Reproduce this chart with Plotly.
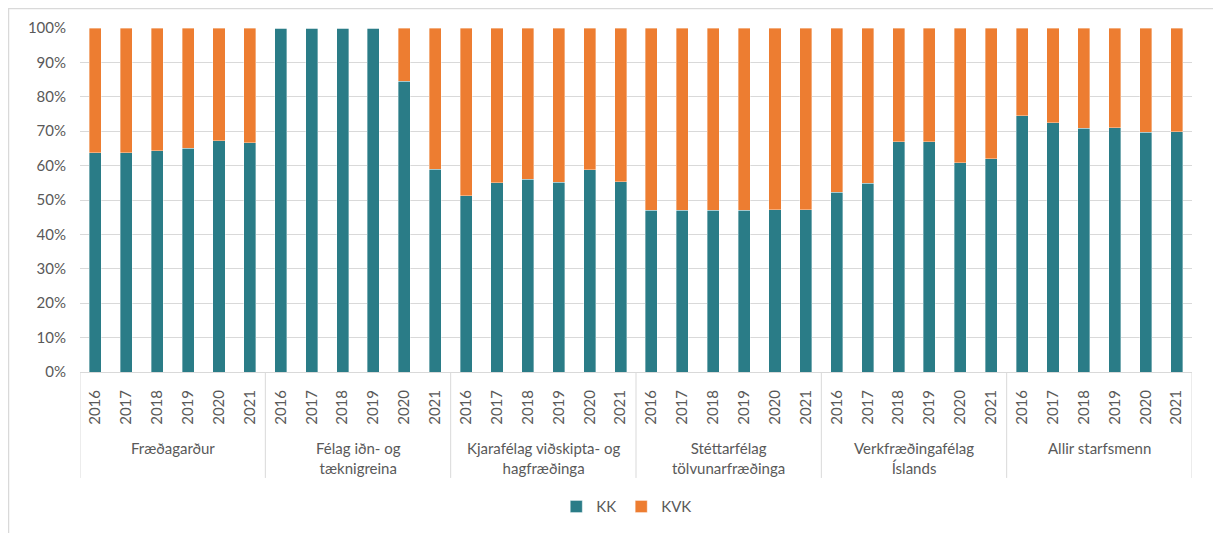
import plotly.graph_objects as go

groups = ["Fræðagarður", "Félag iðn- og<br>tæknigreina", "Kjarafélag viðskipta- og<br>hagfræðinga",
          "Stéttarfélag<br>tölvunarfræðinga", "Verkfræðingafélag<br>Íslands", "Allir starfsmenn"]
years = ["2016", "2017", "2018", "2019", "2020", "2021"]

kk_fraedagardur = [63.7, 63.7, 64.3, 65.1, 67.2, 66.7]
kk_felag_idn = [100, 100, 100, 100, 84.5, 58.9]
kk_kjarafelag = [51.3, 55.0, 56.1, 55.2, 58.8, 55.3]
kk_stettarfelag = [47.0, 47.0, 47.0, 47.0, 47.2, 47.2]
kk_verkfraedinga = [52.2, 54.8, 67.0, 67.0, 60.8, 62.0]
kk_allir = [74.5, 72.5, 70.9, 71.0, 69.7, 69.9]

y_ticks = list(range(0, 101, 10))
y_tick_labels = [f"{v}%" for v in y_ticks]

kk_all = kk_fraedagardur + kk_felag_idn + kk_kjarafelag + kk_stettarfelag + kk_verkfraedinga + kk_allir
kvk_all = [round(100 - v, 1) for v in kk_all]

n_years = len(years)
xpos = list(range(len(groups) * n_years))
year_labels = years * len(groups)

TEAL = "#2A7C87"
ORANGE = "#ED7D31"
TXT = "#595959"
GRID = "#D9D9D9"
FONT = "Lato"

fig = go.Figure()
fig.add_trace(go.Bar(x=xpos, y=kk_all, name="KK",
                     marker=dict(color=TEAL, line=dict(color="rgba(255,255,255,0.6)", width=0.6))))
fig.add_trace(go.Bar(x=xpos, y=kvk_all, name="KVK",
                     marker=dict(color=ORANGE, line=dict(color="rgba(255,255,255,0.6)", width=0.6))))

shapes = []
for g in range(len(groups) + 1):
    xb = g * n_years - 0.5
    shapes.append(dict(type="line", xref="x", yref="paper", x0=xb, x1=xb, y0=0, y1=-0.308,
                       line=dict(color=GRID, width=1)))
# outer chart border
shapes.append(dict(type="rect", xref="paper", yref="paper", x0=-0.0643, x1=1.0198, y0=-0.52, y1=1.0567,
                   line=dict(color=GRID, width=1.5), layer="below"))

annotations = []
for g, name in enumerate(groups):
    annotations.append(dict(x=g * n_years + (n_years - 1) / 2, y=-0.19, xref="x", yref="paper",
                            text=name, showarrow=False, yanchor="top", xanchor="center",
                            font=dict(family=FONT, size=15, color=TXT)))

fig.update_layout(
    width=1213, height=525,
    margin=dict(l=72, r=29, t=20, b=161, autoexpand=False),
    barmode="stack", bargap=0.61,
    plot_bgcolor="white", paper_bgcolor="white",
    font=dict(family=FONT, size=15, color=TXT),
    shapes=shapes, annotations=annotations,
    legend=dict(orientation="h", xref="container", yref="container", x=0.452, xanchor="left",
                y=0.05, yanchor="middle",
                font=dict(family=FONT, size=15, color=TXT), itemwidth=30, traceorder="normal"),
    xaxis=dict(tickmode="array", tickvals=xpos, ticktext=year_labels, tickangle=-90,
               range=[-0.5, len(xpos) - 0.5], showgrid=False, showline=True, linecolor=GRID, linewidth=1,
               ticks="", ticklabelstandoff=11, zeroline=False, automargin=False),
    yaxis=dict(range=[0, 100], tickmode="array", tickvals=y_ticks, ticktext=y_tick_labels, showgrid=True,
               gridcolor=GRID, gridwidth=1, zeroline=False, showline=False, ticks="", ticklabelstandoff=13,
               automargin=False),
)

fig.write_html("out.html")
